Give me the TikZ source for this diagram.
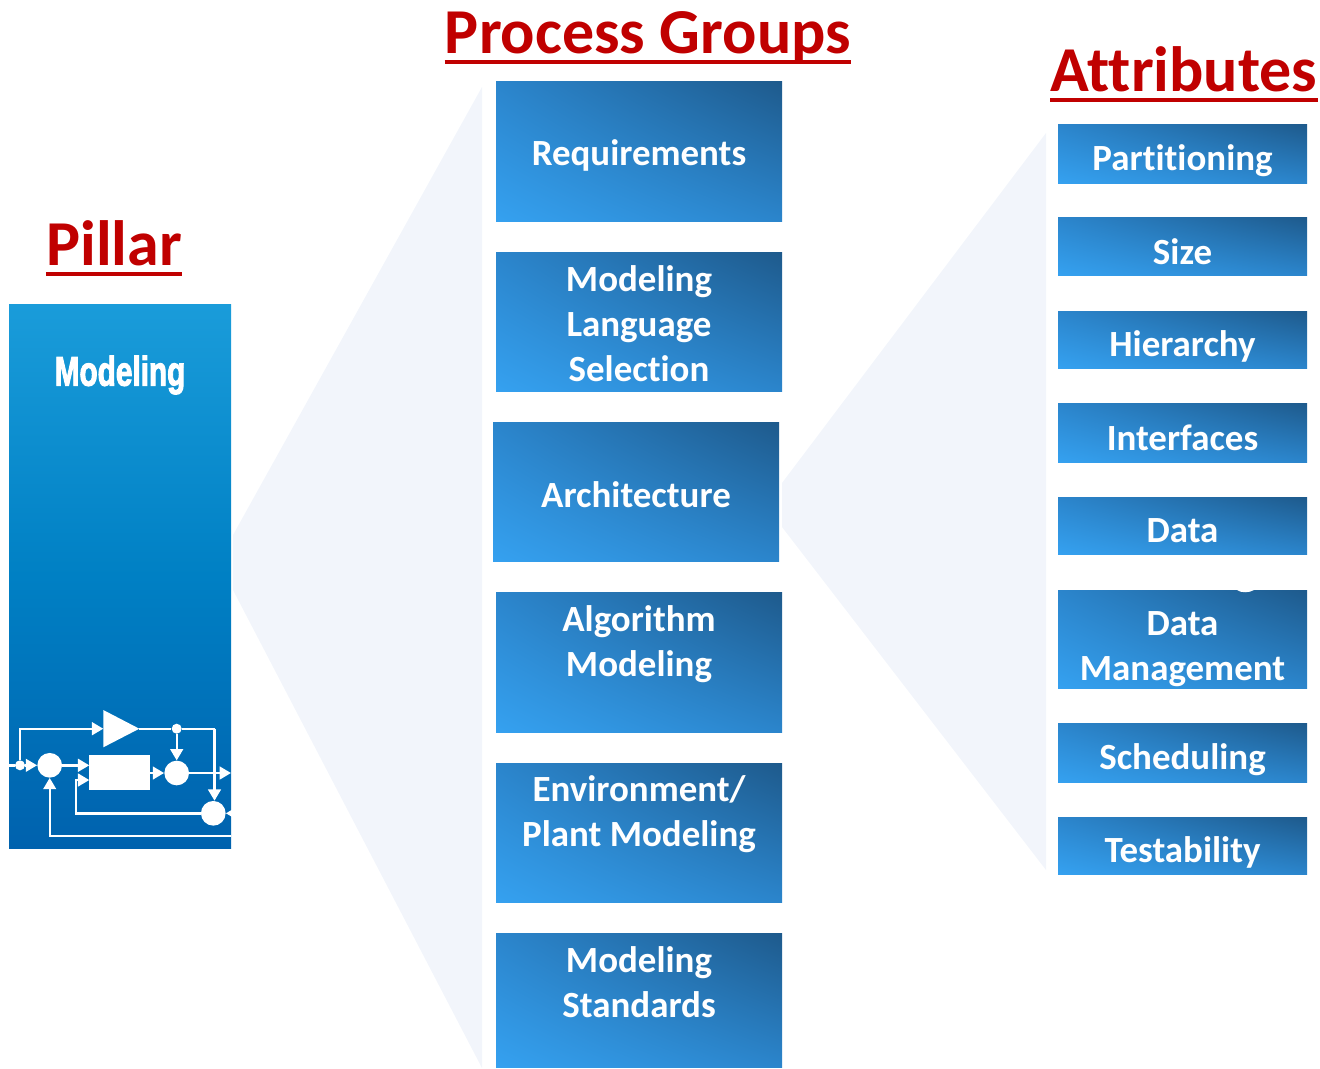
\documentclass[tikz,border=0pt]{standalone}
\usepackage{fontspec}
\setmainfont[Ligatures={NoCommon}]{Carlito}
\newfontfamily\heavy{Liberation Sans}
\usetikzlibrary{arrows.meta,shadings}
\definecolor{wedge}{HTML}{F2F5FB}
\definecolor{titlered}{HTML}{C00000}
\definecolor{blueA}{HTML}{35A1F0}
\definecolor{blueB}{HTML}{2B85CC}
\definecolor{blueC}{HTML}{1E5A8C}
\definecolor{pilT}{HTML}{1A9CDA}
\definecolor{pilM}{HTML}{0080C4}
\definecolor{pilB}{HTML}{0062AE}
\tikzset{
  x=0.75pt,y=-0.75pt,
  box/.style={draw=none,inner sep=0pt,shading=bilinear interpolation,
    lower left=blueA,upper right=blueC,upper left=blueB,lower right=blueB},
  lbl/.style={text=white,font=\bfseries\fontsize{27.7}{33.6}\selectfont,align=center,inner sep=0pt},
  ttl/.style={text=titlered,font=\bfseries\fontsize{48}{54}\selectfont,inner sep=0pt,text depth=6pt},
  ul/.style={draw=titlered,line width=3pt},
  sum/.style={circle,fill=white,draw=none,minimum size=18.5pt,inner sep=0pt},
  dot/.style={circle,fill=white,draw=none,minimum size=7.5pt,inner sep=0pt},
  wire/.style={draw=white,line width=1.8pt},
  arr/.style={wire,-{Triangle[length=8.5pt,width=9.5pt,fill=white]}},
}
\newcommand{\blk}[7]{%
  \node[box,minimum width={(#4-#2)*0.75pt},minimum height={(#5-#3-0.8)*0.75pt}] (#1) at ({(#2+#4)/2},{(#3+#5)/2-0.4}) {};
  \node[lbl] (#1-t) at ({(#2+#4)/2},#6) {#7};}
\begin{document}
\begin{tikzpicture}
\useasboundingbox (0,0) rectangle (1320,1068);
% wedges
\fill[wedge] (233,535) -- (482,87) -- (482,1068) -- (233,590) -- cycle;
\fill[wedge] (782,483) -- (1046,133) -- (1046,870) -- (782,527) -- cycle;
% titles
\node[ttl] (tp) at (114,247) {Pillar};
\node[ttl] (tg) at (648,37) {Process Groups};
\node[ttl] (ta) at (1184,73) {Attributes};
\draw[ul] (tp.south west) -- (tp.south east);
\draw[ul] (tg.south west) -- (tg.south east);
\draw[ul] (ta.south west) -- (ta.south east);
% pillar
\node[inner sep=0pt,minimum width=166.5pt,minimum height=408pt,top color=pilT,bottom color=pilB,middle color=pilM] (pillar) at (120,576) {};
\node[text=white,font=\heavy\bfseries\fontsize{31}{34}\selectfont,xscale=0.72,inner sep=0pt] (plabel) at (120,375) {\special{pdf:code 2 Tr 0.9 w 1 1 1 RG}Modeling\special{pdf:code 0 Tr}};
% block icon
\node[fill=white,inner sep=0pt,minimum width=45.5pt,minimum height=26.5pt] (gain) at (119.5,772.5) {};
\fill[white] (103.3,710) -- (139.3,728.7) -- (103.3,747.3) -- cycle;
\coordinate (tritip) at (139.3,728.7);
\coordinate (triin) at (103.3,728.7);
\node[sum] (s1) at (49.7,765.3) {};
\node[sum] (s2) at (176.7,773) {};
\node[sum] (s3) at (213.3,813.3) {};
\node[dot] (d1) at (20,765.3) {};
\node[dot] (d2) at (176.7,728.7) {};
\coordinate (inL) at (9,765.3);
\coordinate (outR) at (231,773);
\coordinate (fbR) at (231,835.7);
\coordinate (fbC) at (49.7,835.7);
\coordinate (s3R) at (231,813.3);
\coordinate (upR) at (214.5,728.7);
\coordinate (fbL) at (76,813.3);
\coordinate (fbU) at (76,780);
\coordinate (g1) at (89.3,765.3);
\coordinate (g2) at (89.3,780);
\coordinate (g3) at (150,773);
\coordinate (upL) at (20,728.7);
\path[wire] (inL) -- (d1);
\path[arr] (d1) -- (s1);
\path[arr] (d1) -- (upL) -- (triin);
\path[wire] (tritip) -- (d2) -- (upR);
\path[arr] (upR) -- (upR |- s3.north);
\path[arr] (d2) -- (s2);
\path[arr] (s1) -- (g1);
\path[arr] (g3) -- (s2);
\path[arr] (s2) -- (outR);
\path[arr] (s3) -- (fbL) -- (fbU) -- (g2);
\path[arr] (fbR) -- (fbC) -- (s1);
\path[arr] (s3R) -- (s3);
% process groups
\blk{pg1}{496}{81}{782}{222}{155}{Requirements}
\blk{pg2}{496}{252}{782}{392}{323.5}{Modeling\\Language\\Selection}
\blk{pg3}{493}{422}{779}{562}{495}{Architecture}
\blk{pg4}{496}{592}{782}{733}{644.5}{Algorithm\\Modeling}
\blk{pg5}{496}{763}{782}{903}{814.5}{Environment/\\Plant Modeling}
\blk{pg6}{496}{933}{782}{1068}{982.5}{Modeling\\Standards}
% attributes
\blk{a1}{1058}{124}{1307}{184}{161}{Partitioning}
\blk{a2}{1058}{217}{1307}{276}{252}{Size}
\blk{a3}{1058}{311}{1307}{369}{346}{Hierarchy}
\blk{a4}{1058}{403}{1307}{463}{438}{Interfaces}
\blk{a5}{1058}{497}{1307}{555}{531}{Data}
\blk{a6}{1058}{590}{1307}{689}{649}{Data\\Management}
\fill[white] (1237,590) .. controls (1241,593) and (1249,593) .. (1254,590) -- cycle;
\blk{a7}{1058}{723}{1307}{783}{760}{Scheduling}
\blk{a8}{1058}{817}{1307}{875}{852}{Testability}
\end{tikzpicture}
\end{document}
